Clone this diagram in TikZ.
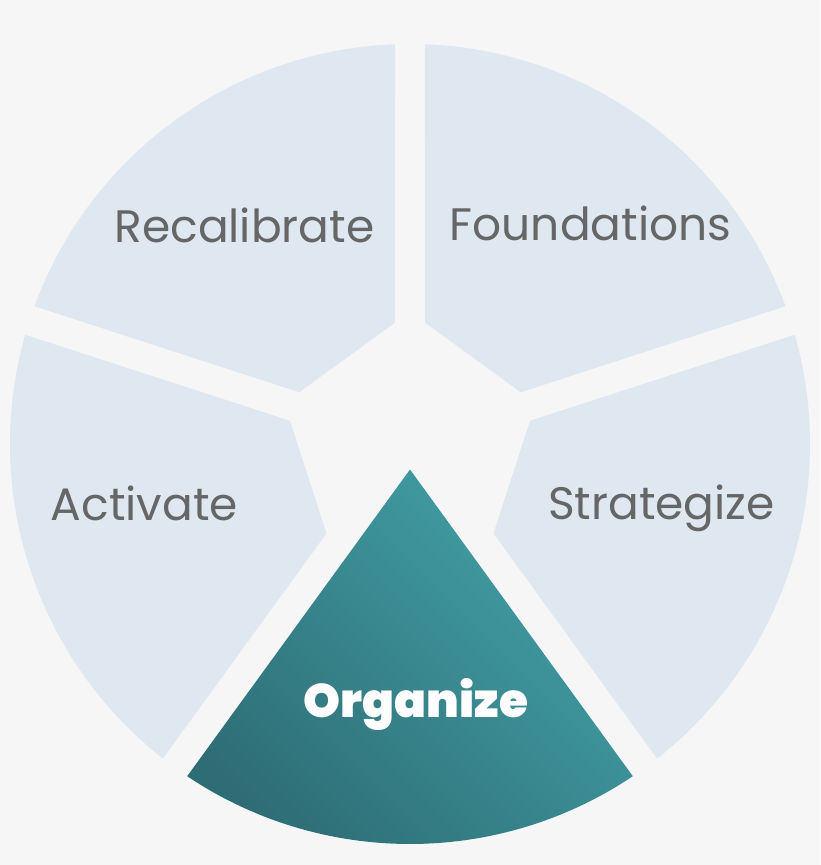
\documentclass[tikz,border=0pt]{standalone}
\usepackage{fontspec}
\setmainfont{Poppins}
\newfontfamily\heavyfont{Poppins Black}
\usepackage{tikz}

\definecolor{wheelbg}{HTML}{F6F6F6}
\definecolor{segfill}{HTML}{DFE7F0}
\definecolor{labelgray}{HTML}{666666}
\definecolor{tealdark}{HTML}{2E6D75}
\definecolor{teallight}{HTML}{43A0A7}

\begin{document}
\begin{tikzpicture}[x=1pt,y=1pt,
segment/.style={fill=segfill},
focus/.style={top color=teallight, bottom color=tealdark, shading angle=-45}]
\tikzstyle{seglabel}=[text=labelgray, font=\fontsize{45.5}{45.5}\selectfont, anchor=base, inner sep=0pt]
\useasboundingbox (-410,-421) rectangle (410,444);
\fill[wheelbg] (-410,-421) rectangle (410,444);
% light segments, mid angles 54, 126, 198, 342
\foreach \m in {54,126,198,342}{
	\fill[segment] (\m-28.95:122.3) -- (\m-33.85:400)
		arc[start angle=\m-33.85, end angle=\m+33.85, radius=400]
		-- (\m+28.95:122.3) -- cycle;
}
% highlighted segment
\shade[focus] (270:25.52) -- (236.15:400)
	arc[start angle=236.15, end angle=303.85, radius=400] -- cycle;
\node[seglabel] (recal) at (-165.5,201) {Recalibrate};
\node[seglabel] (found) at (180.5,203) {Foundations};
\node[seglabel] (activ) at (-265.5,-76) {Activate};
\node[seglabel] (strat) at (251.5,-75) {Strategize};
\node[seglabel, text=white, font=\fontsize{47}{47}\heavyfont] (organ) at (6,-273) {Organize};
\end{tikzpicture}
\end{document}
